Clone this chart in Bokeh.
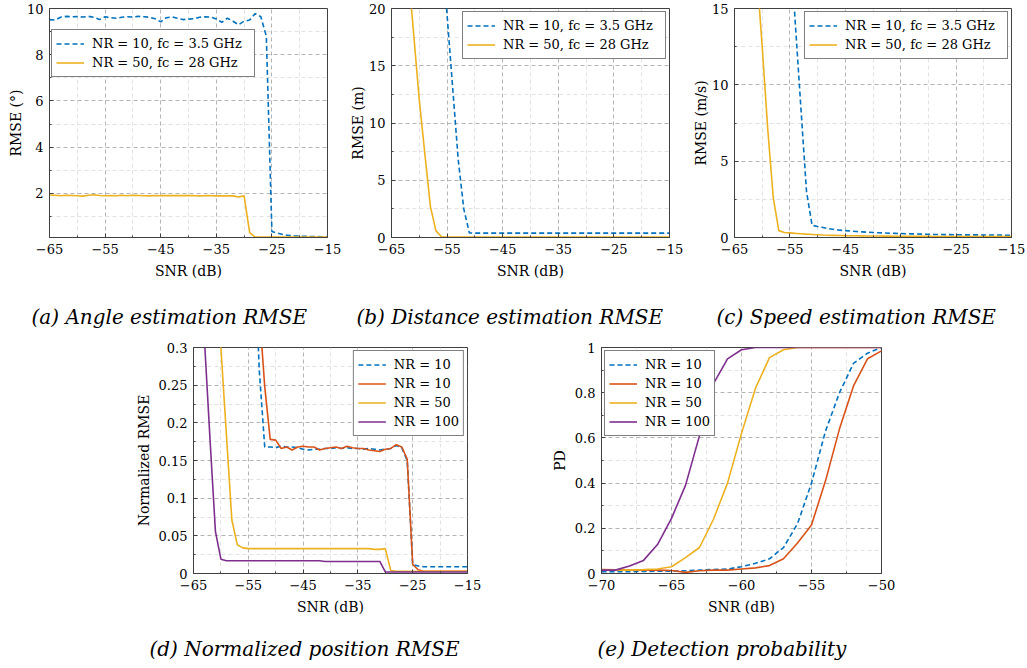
from bokeh.plotting import figure
from bokeh.layouts import column, row
from bokeh.models import (Range1d, FixedTicker, CustomJSTickFormatter, Title, Spacer)
from bokeh.embed import file_html
from bokeh.resources import INLINE

FONT = "DejaVu Serif"
BLUE, ORANGE, GOLD, PURPLE = "#0072BD", "#D95319", "#EDB120", "#7E2F8E"

# ---------------- data ----------------
# (a) angle estimation RMSE (deg), SNR -65..-15 dB
angle_snr = list(range(-65, -14))
angle_nr10 = [9.52, 9.50, 9.62, 9.66, 9.64, 9.65, 9.63, 9.66, 9.62, 9.52,
              9.64, 9.60, 9.58, 9.62, 9.64, 9.63, 9.66, 9.64, 9.62, 9.56,
              9.42, 9.60, 9.64, 9.58, 9.52, 9.54, 9.56, 9.62, 9.64, 9.63,
              9.55, 9.40, 9.58, 9.45, 9.30, 9.45, 9.50, 9.78, 9.65, 8.80,
              0.35, 0.28, 0.22, 0.18, 0.16, 0.15, 0.14, 0.13, 0.13, 0.12, 0.12]
angle_nr50 = [1.93, 1.92, 1.90, 1.92, 1.91, 1.90, 1.88, 1.92, 1.94, 1.91,
              1.90, 1.91, 1.90, 1.92, 1.90, 1.92, 1.91, 1.90, 1.89, 1.91,
              1.90, 1.90, 1.90, 1.90, 1.90, 1.90, 1.90, 1.89, 1.90, 1.90,
              1.89, 1.89, 1.89, 1.89, 1.84, 1.89, 0.30, 0.11, 0.11, 0.11,
              0.11, 0.11, 0.11, 0.11, 0.11, 0.11, 0.11, 0.11, 0.11, 0.11, 0.11]

# (b) distance estimation RMSE (m)
dist_nr10_snr = list(range(-56, -14))
dist_nr10 = [25.6, 19.4, 13.1, 6.8, 2.5, 0.40] + [0.38] * 36
dist_nr50_snr = list(range(-62, -14))
dist_nr50 = [23.4, 17.7, 12.0, 7.3, 2.7, 0.58, 0.06] + [0.05] * 41

# (c) speed estimation RMSE (m/s)
speed_nr10_snr = list(range(-55, -14))
speed_nr10 = [19.5, 13.9, 8.4, 3.0, 0.80, 0.72, 0.65, 0.58, 0.52, 0.48,
              0.45, 0.42, 0.39, 0.37, 0.35, 0.33, 0.31, 0.30, 0.28, 0.27,
              0.26, 0.25, 0.24, 0.23, 0.22, 0.21, 0.20, 0.20, 0.19, 0.19,
              0.18, 0.18, 0.17, 0.17, 0.17, 0.16, 0.16, 0.16, 0.16, 0.15, 0.15]
speed_nr50_snr = list(range(-61, -14))
speed_nr50 = [17.5, 12.5, 7.1, 2.6, 0.45, 0.33, 0.30, 0.27, 0.25, 0.22,
              0.20, 0.18, 0.16, 0.15, 0.14, 0.13, 0.12, 0.115, 0.11, 0.105,
              0.10, 0.10, 0.095, 0.09, 0.09, 0.085, 0.085, 0.08, 0.08, 0.08,
              0.075, 0.075, 0.07, 0.07, 0.07, 0.07, 0.065, 0.065, 0.065, 0.065,
              0.06, 0.06, 0.06, 0.06, 0.06, 0.06, 0.06]

# (d) normalized position RMSE
pos_nr10a_snr = list(range(-54, -14))
pos_nr10a = [0.45, 0.27, 0.168, 0.168, 0.167, 0.169, 0.168, 0.168, 0.167, 0.165,
             0.164, 0.165, 0.165, 0.166, 0.166, 0.167, 0.166, 0.167, 0.166, 0.166,
             0.165, 0.166, 0.165, 0.164, 0.165, 0.166, 0.170, 0.167, 0.150, 0.012,
             0.010, 0.009, 0.009, 0.009, 0.009, 0.009, 0.009, 0.009, 0.009, 0.009]
pos_nr10b_snr = list(range(-53, -14))
pos_nr10b = [0.35, 0.248, 0.178, 0.177, 0.166, 0.168, 0.164, 0.168, 0.169, 0.168,
             0.168, 0.164, 0.166, 0.167, 0.168, 0.166, 0.169, 0.167, 0.166, 0.166,
             0.164, 0.163, 0.162, 0.165, 0.166, 0.171, 0.168, 0.152, 0.012, 0.005,
             0.003, 0.003, 0.003, 0.003, 0.003, 0.003, 0.003, 0.003, 0.003]
pos_nr50_snr = list(range(-61, -14))
pos_nr50 = [0.45, 0.30, 0.185, 0.071, 0.038, 0.034, 0.033, 0.033, 0.033, 0.033,
            0.033, 0.033, 0.033, 0.033, 0.033, 0.033, 0.033, 0.033, 0.033, 0.033,
            0.033, 0.033, 0.033, 0.033, 0.033, 0.033, 0.033, 0.033, 0.033, 0.032,
            0.032, 0.033, 0.004, 0.003, 0.003, 0.003, 0.003, 0.003, 0.003, 0.003,
            0.003, 0.003, 0.003, 0.003, 0.003, 0.003, 0.003]
pos_nr100_snr = list(range(-64, -14))
pos_nr100 = [0.50, 0.31, 0.18, 0.056, 0.019, 0.017, 0.017, 0.017, 0.017, 0.017,
             0.017, 0.017, 0.017, 0.017, 0.017, 0.017, 0.017, 0.017, 0.017, 0.017,
             0.017, 0.017, 0.017, 0.016, 0.016, 0.016, 0.016, 0.016, 0.016, 0.016,
             0.016, 0.016, 0.016, 0.016, 0.002, 0.002, 0.002, 0.002, 0.002, 0.002,
             0.002, 0.002, 0.002, 0.002, 0.002, 0.002, 0.002, 0.002, 0.002, 0.002]

# (e) detection probability, SNR -70..-50 dB
pd_snr = list(range(-70, -49))
pd_nr10a = [0.008, 0.008, 0.008, 0.009, 0.010, 0.010, 0.012, 0.015, 0.018, 0.020,
            0.030, 0.045, 0.065, 0.115, 0.22, 0.40, 0.63, 0.80, 0.93, 0.975, 1.0]
pd_nr10b = [0.018, 0.016, 0.015, 0.015, 0.015, 0.013, 0.005, 0.012, 0.015, 0.015,
            0.020, 0.025, 0.035, 0.065, 0.135, 0.215, 0.41, 0.64, 0.83, 0.95, 0.985]
pd_nr50 = [0.015, 0.015, 0.015, 0.017, 0.020, 0.030, 0.070, 0.115, 0.24, 0.40,
           0.62, 0.82, 0.955, 0.99, 1.0, 1.0, 1.0, 1.0, 1.0, 1.0, 1.0]
pd_nr100 = [0.015, 0.015, 0.033, 0.058, 0.128, 0.244, 0.39, 0.61, 0.84, 0.95,
            0.99, 1.0, 1.0, 1.0, 1.0, 1.0, 1.0, 1.0, 1.0, 1.0, 1.0]

LBL_10_35 = "NR = 10, fc = 3.5 GHz"
LBL_50_28 = "NR = 50, fc = 28 GHz"

# ---------------- styling helpers ----------------
X_FMT_CODE = "return (tick < 0 ? '\u2212' : '') + Math.abs(tick);"
Y_FMT_CODE = "return String(parseFloat(tick.toFixed(4)));"
FRAME = "#404040"


def style_axis(ax):
    ax.axis_line_color = FRAME
    ax.major_tick_line_color = FRAME
    ax.minor_tick_line_color = FRAME
    ax.major_tick_in = 4
    ax.major_tick_out = 0
    ax.minor_tick_in = 2
    ax.minor_tick_out = 0
    ax.major_label_text_font = FONT
    ax.major_label_text_font_size = "13px"
    ax.major_label_text_color = "black"
    ax.major_label_standoff = 6
    ax.axis_label_text_font = FONT
    ax.axis_label_text_font_size = "14px"
    ax.axis_label_text_font_style = "normal"
    ax.axis_label_text_color = "black"


def make_fig(w, h, bl, br, bt, bb, xr, yr, xmaj, xmin, ymaj, ymin, ylabel, ystand,
             caption, cap_off, cap_standoff):
    p = figure(width=w, height=h, x_range=Range1d(*xr), y_range=Range1d(*yr),
               output_backend="svg", toolbar_location=None, tools="", title=None,
               min_border_left=bl, min_border_right=br, min_border_top=bt,
               min_border_bottom=bb)
    p.background_fill_color = "white"
    p.border_fill_color = "white"
    p.outline_line_color = FRAME
    p.outline_line_width = 1
    xt = FixedTicker(ticks=xmaj, minor_ticks=xmin)
    yt = FixedTicker(ticks=ymaj, minor_ticks=ymin)
    p.xaxis.ticker = xt
    p.yaxis.ticker = yt
    p.xaxis.formatter = CustomJSTickFormatter(code=X_FMT_CODE)
    p.yaxis.formatter = CustomJSTickFormatter(code=Y_FMT_CODE)
    p.xaxis.axis_label = "SNR (dB)"
    p.yaxis.axis_label = ylabel
    for ax in p.xaxis + p.yaxis:
        style_axis(ax)
    p.xaxis.axis_label_standoff = 6
    p.yaxis.axis_label_standoff = ystand
    for g, t in ((p.xgrid, xt), (p.ygrid, yt)):
        g.ticker = t
        g.grid_line_color = "#b4b4b4"
        g.grid_line_dash = "4 3"
        g.grid_line_width = 1
        g.minor_grid_line_color = "#e2e2e2"
        g.minor_grid_line_dash = "4 3"
        g.minor_grid_line_width = 1
    # sub-figure caption under the x axis (empty first line = vertical gap)
    cap = Title(text="\n" + caption, align="left", offset=cap_off, text_font=FONT,
                text_font_size="20px", text_font_style="italic",
                text_color="black", standoff=cap_standoff)
    p.add_layout(cap, "below")
    return p


def style_legend(p, loc, margin=3, label_width=20):
    lg = p.legend[0]
    lg.location = loc
    lg.margin = margin
    lg.padding = 4
    lg.spacing = 0
    lg.glyph_width = 28
    lg.glyph_height = 19
    lg.label_height = 19
    lg.label_width = label_width
    lg.label_standoff = 8
    lg.label_text_font = FONT
    lg.label_text_font_size = "13px"
    lg.label_text_color = "black"
    lg.border_line_color = "black"
    lg.border_line_width = 1
    lg.background_fill_color = "white"
    lg.background_fill_alpha = 1.0


X65 = [-65, -55, -45, -35, -25, -15]
X65m = [-60, -50, -40, -30, -20]

# (a)
fa = make_fig(345, 330, 49, 18, 8, 93, (-65, -15), (0.09, 10), X65, X65m,
              [2, 4, 6, 8, 10], [1, 3, 5, 7, 9], "RMSE (°)", 0,
              "(a) Angle estimation RMSE", -18, -6)
fa.line(angle_snr, angle_nr10, color=BLUE, line_width=1.6, line_dash="5 3",
        legend_label=LBL_10_35)
fa.line(angle_snr, angle_nr50, color=GOLD, line_width=1.6, legend_label=LBL_50_28)
style_legend(fa, (2, 160), label_width=158)

# (b)
fb = make_fig(340, 330, 46, 16, 8, 93, (-65, -15), (0, 20), X65, X65m,
              [0, 5, 10, 15, 20], [2.5, 7.5, 12.5, 17.5], "RMSE (m)", 0,
              "(b) Distance estimation RMSE", -35, -6)
fb.line(dist_nr10_snr, dist_nr10, color=BLUE, line_width=1.6, line_dash="5 3",
        legend_label=LBL_10_35)
fb.line(dist_nr50_snr, dist_nr50, color=GOLD, line_width=1.6, legend_label=LBL_50_28)
style_legend(fb, "top_right", label_width=158)

# (c)
fc = make_fig(342, 330, 49, 16, 8, 93, (-65, -15), (0, 15), X65, X65m,
              [0, 5, 10, 15], [2.5, 7.5, 12.5], "RMSE (m/s)", 0,
              "(c) Speed estimation RMSE", -18, -6)
fc.line(speed_nr10_snr, speed_nr10, color=BLUE, line_width=1.6, line_dash="5 3",
        legend_label=LBL_10_35)
fc.line(speed_nr50_snr, speed_nr50, color=GOLD, line_width=1.6, legend_label=LBL_50_28)
style_legend(fc, "top_right", label_width=158)

# (d)
fd = make_fig(357, 338, 63, 20, 17, 94, (-65, -15), (0, 0.3), X65, X65m,
              [0, 0.05, 0.1, 0.15, 0.2, 0.25, 0.3],
              [0.025, 0.075, 0.125, 0.175, 0.225, 0.275], "Normalized RMSE", 4,
              "(d) Normalized position RMSE", -44, -14)
fd.line(pos_nr10a_snr, pos_nr10a, color=BLUE, line_width=1.6, line_dash="5 3",
        legend_label="NR = 10")
fd.line(pos_nr10b_snr, pos_nr10b, color=ORANGE, line_width=1.6, legend_label="NR = 10 ")
fd.line(pos_nr50_snr, pos_nr50, color=GOLD, line_width=1.6, legend_label="NR = 50")
fd.line(pos_nr100_snr, pos_nr100, color=PURPLE, line_width=1.6, legend_label="NR = 100")
style_legend(fd, "top_right")

# (e)
fe = make_fig(370, 338, 70, 20, 13, 95, (-70, -50), (0, 1),
              [-70, -65, -60, -55, -50], [-67.5, -62.5, -57.5, -52.5],
              [0, 0.2, 0.4, 0.6, 0.8, 1], [0.1, 0.3, 0.5, 0.7, 0.9], "PD", 4,
              "(e) Detection probability", -4, -14)
fe.line(pd_snr, pd_nr10a, color=BLUE, line_width=1.6, line_dash="5 3",
        legend_label="NR = 10")
fe.line(pd_snr, pd_nr10b, color=ORANGE, line_width=1.6, legend_label="NR = 10 ")
fe.line(pd_snr, pd_nr50, color=GOLD, line_width=1.6, legend_label="NR = 50")
fe.line(pd_snr, pd_nr100, color=PURPLE, line_width=1.6, legend_label="NR = 100")
style_legend(fe, "top_left")

layout = column(
    row(fa, fb, fc),
    row(Spacer(width=130, height=338), fd, Spacer(width=44, height=338), fe),
)

open("out.html", "w").write(file_html(layout, INLINE))
